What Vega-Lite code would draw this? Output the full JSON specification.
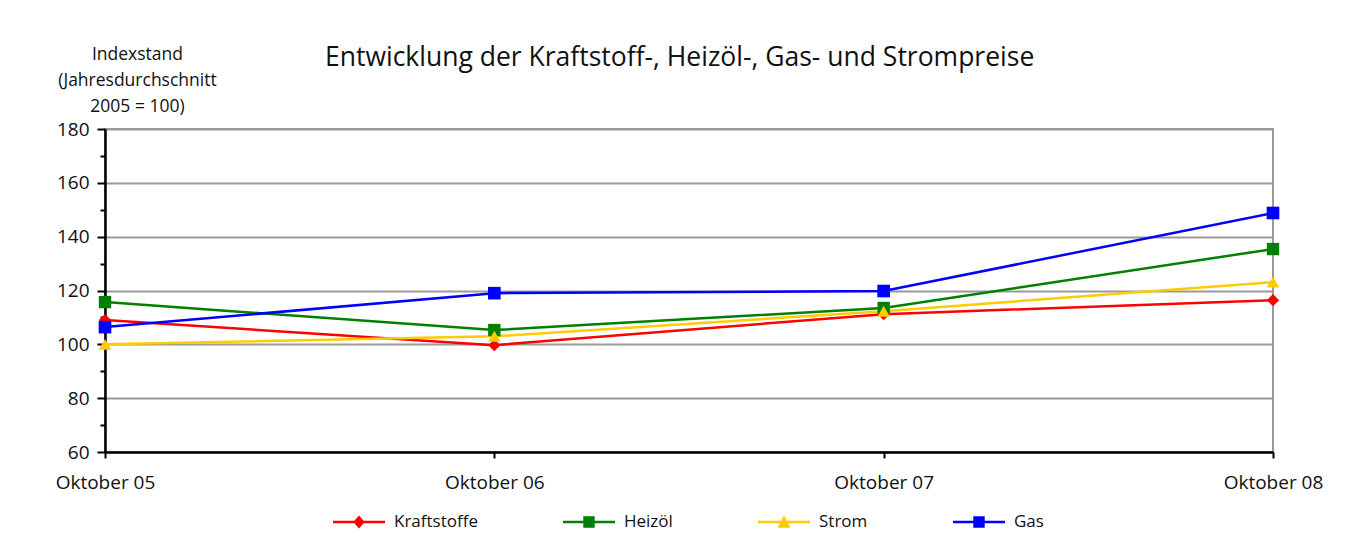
{
  "$schema": "https://vega.github.io/schema/vega-lite/v6.json",
  "autosize": {"type": "none"},
  "width": 1168,
  "height": 323,
  "padding": {"left": 105, "top": 129, "right": 76, "bottom": 102},
  "background": "white",
  "config": {
    "font": "Open Sans",
    "view": {"stroke": "#999999", "strokeWidth": 2},
    "axis": {"labelFont": "Open Sans", "titleFont": "Open Sans", "labelColor": "#111", "titleColor": "#111"}
  },
  "title": {
    "text": "Entwicklung der Kraftstoff-, Heizöl-, Gas- und Strompreise",
    "fontSize": 26.5,
    "fontWeight": "normal",
    "color": "#111",
    "anchor": "start",
    "frame": "group",
    "dx": 220,
    "offset": -26,
    "font": "Open Sans"
  },
  "data": {
    "values": [
      {"month": "Oktober 05", "series": "Kraftstoffe", "value": 109.0},
      {"month": "Oktober 06", "series": "Kraftstoffe", "value": 99.7},
      {"month": "Oktober 07", "series": "Kraftstoffe", "value": 111.2},
      {"month": "Oktober 08", "series": "Kraftstoffe", "value": 116.4},
      {"month": "Oktober 05", "series": "Heizöl", "value": 115.7},
      {"month": "Oktober 06", "series": "Heizöl", "value": 105.3},
      {"month": "Oktober 07", "series": "Heizöl", "value": 113.5},
      {"month": "Oktober 08", "series": "Heizöl", "value": 135.4},
      {"month": "Oktober 05", "series": "Strom", "value": 100.0},
      {"month": "Oktober 06", "series": "Strom", "value": 103.0},
      {"month": "Oktober 07", "series": "Strom", "value": 112.3},
      {"month": "Oktober 08", "series": "Strom", "value": 123.1},
      {"month": "Oktober 05", "series": "Gas", "value": 106.4},
      {"month": "Oktober 06", "series": "Gas", "value": 119.0},
      {"month": "Oktober 07", "series": "Gas", "value": 119.8},
      {"month": "Oktober 08", "series": "Gas", "value": 148.8}
    ]
  },
  "encoding": {
    "x": {
      "field": "month",
      "type": "ordinal",
      "scale": {"type": "point", "padding": 0},
      "axis": {
        "title": null,
        "labelAngle": 0,
        "labelFontSize": 19,
        "labelPadding": 15,
        "tickSize": 6,
        "tickWidth": 2,
        "tickColor": "black",
        "domainColor": "black",
        "domainWidth": 2.5,
        "grid": false,
        "labelOverlap": false
      }
    },
    "y": {
      "field": "value",
      "type": "quantitative",
      "scale": {"domain": [60, 180], "nice": false, "zero": false},
      "axis": {
        "values": [60, 70, 80, 90, 100, 110, 120, 130, 140, 150, 160, 170, 180],
        "labelExpr": "datum.value % 20 === 0 ? datum.label : ''",
        "labelFontSize": 19,
        "labelPadding": 8,
        "tickSize": {"condition": {"test": "datum.value % 20 === 0", "value": 8}, "value": 5},
        "tickWidth": 2,
        "tickColor": "black",
        "domainColor": "black",
        "domainWidth": 2.5,
        "grid": true,
        "gridColor": "#999999",
        "gridWidth": 2,
        "gridOpacity": {"condition": {"test": "datum.value % 20 === 0", "value": 1}, "value": 0},
        "title": ["Indexstand", "(Jahresdurchschnitt", "2005 = 100)"],
        "titleAngle": 0,
        "titleAlign": "center",
        "titleBaseline": "alphabetic",
        "titleX": 32,
        "titleY": -70,
        "titleFontSize": 17.5,
        "titleFontWeight": "normal",
        "titleLineHeight": 26
      }
    },
    "color": {
      "field": "series",
      "type": "nominal",
      "scale": {
        "domain": ["Kraftstoffe", "Heizöl", "Strom", "Gas"],
        "range": ["#FF0000", "#008000", "#FFCC00", "#0000FF"]
      }
    }
  },
  "layer": [
    {
      "mark": {"type": "line", "strokeWidth": 2.5},
      "encoding": {"color": {"field": "series", "type": "nominal", "legend": null}}
    },
    {
      "mark": {"type": "point", "filled": true, "opacity": 1},
      "encoding": {
        "color": {"field": "series", "type": "nominal", "legend": null},
        "shape": {
          "field": "series",
          "type": "nominal",
          "scale": {
            "domain": ["Kraftstoffe", "Heizöl", "Strom", "Gas"],
            "range": ["diamond", "square", "triangle-up", "square"]
          },
          "legend": null
        },
        "size": {
          "field": "series",
          "type": "nominal",
          "scale": {
            "domain": ["Kraftstoffe", "Heizöl", "Strom", "Gas"],
            "range": [150, 160, 160, 160]
          },
          "legend": null
        }
      }
    },
    {
      "transform": [{"filter": "false"}],
      "mark": {"type": "point", "filled": true, "opacity": 1, "size": 2704},
      "encoding": {
        "color": {
          "field": "series",
          "type": "nominal",
          "legend": {
            "title": null,
            "orient": "none",
            "direction": "horizontal",
            "legendX": 228,
            "legendY": 367,
            "symbolSize": 2704,
            "symbolStrokeWidth": 0,
            "symbolOpacity": 1,
            "labelFontSize": 17,
            "labelFont": "Open Sans",
            "labelColor": "#111",
            "labelOffset": 9,
            "columnPadding": 85,
            "values": ["Kraftstoffe", "Heizöl", "Strom", "Gas"]
          }
        },
        "shape": {
          "field": "series",
          "type": "nominal",
          "scale": {
            "domain": ["Kraftstoffe", "Heizöl", "Strom", "Gas"],
            "range": [
              "M-1,-0.05H1V0.05H-1Z M0,-0.25L0.22,0L0,0.25L-0.22,0Z",
              "M-1,-0.05H1V0.05H-1Z M-0.22,-0.22H0.22V0.22H-0.22Z",
              "M-1,-0.05H1V0.05H-1Z M0,-0.26L0.25,0.22H-0.25Z",
              "M-1,-0.05H1V0.05H-1Z M-0.22,-0.22H0.22V0.22H-0.22Z"
            ]
          },
          "legend": {
            "title": null,
            "orient": "none",
            "direction": "horizontal",
            "legendX": 228,
            "legendY": 367,
            "symbolSize": 2704,
            "symbolStrokeWidth": 0,
            "labelFontSize": 17,
            "labelFont": "Open Sans",
            "labelColor": "#111",
            "labelOffset": 9,
            "columnPadding": 85,
            "values": ["Kraftstoffe", "Heizöl", "Strom", "Gas"]
          }
        }
      }
    }
  ],
  "resolve": {
    "scale": {"shape": "independent", "size": "independent"},
    "legend": {"color": "independent", "shape": "independent"}
  }
}
